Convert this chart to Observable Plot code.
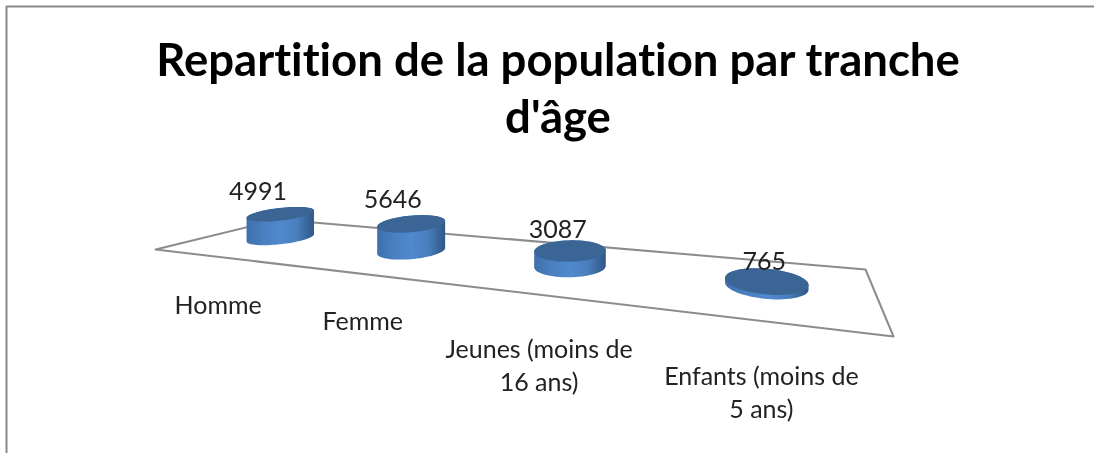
<!DOCTYPE html>
<html><head><meta charset="utf-8">
<script src="https://cdn.jsdelivr.net/npm/d3@7"></script>
<script src="https://cdn.jsdelivr.net/npm/@observablehq/plot@0.6"></script>
<style>html,body{margin:0;padding:0;background:#fff}svg{display:block;filter:blur(0.45px)}svg text{font-variant-ligatures:none;font-feature-settings:"liga" 0}</style>
</head><body><div id="chart"></div>
<script>
const chartTitle = "Repartition de la population par tranche\nd'âge";
const categories = ["Homme", "Femme", "Jeunes (moins de\n16 ans)", "Enfants (moins de\n5 ans)"];
const values = [4991, 5646, 3087, 765];

const W = 1094, H = 453;
// perspective calibration: floor corners of the 3-D plot on screen (back-left, back-right, front-right, front-left)
const [p00, p10, p11, p01] = [[278,219],[865,269],[893,336],[155,249]];
function homography(){
  const dx1=p10[0]-p11[0], dx2=p01[0]-p11[0], sx=p00[0]-p10[0]+p11[0]-p01[0];
  const dy1=p10[1]-p11[1], dy2=p01[1]-p11[1], sy=p00[1]-p10[1]+p11[1]-p01[1];
  const d=dx1*dy2-dx2*dy1;
  const g=(sx*dy2-dx2*sy)/d, h=(dx1*sy-sx*dy1)/d;
  const a=p10[0]-p00[0]+g*p10[0], b=p01[0]-p00[0]+h*p01[0], c=p00[0];
  const e=p10[1]-p00[1]+g*p10[1], f=p01[1]-p00[1]+h*p01[1], k=p00[1];
  return (u,v)=>{const w=g*u+h*v+1;return [(a*u+b*v+c)/w,(e*u+f*v+k)/w];};
}
const project = homography();
const depthMid = 0.475, radiusU = 0.048, radiusV = 0.22;
const heightPerUnit = 0.0052;
const band = i => 0.5 + ((i+0.5)/categories.length-0.5)*1.012;
const labelNudgeX = [0, 3, 3, 0], labelNudgeY = [11, 2, 12, -8]; // axis labels are placed by the wrap of their text

const ringOf = i => d3.range(72).map(t=>{
  const a=t/72*2*Math.PI;
  return project(band(i)+radiusU*Math.cos(a), depthMid+radiusV*Math.sin(a));
});
const heightOf = i => {
  const ring = ringOf(i);
  return values[i]*heightPerUnit*(d3.max(ring,d=>d[0])-d3.min(ring,d=>d[0]))/74;
};

const sides = [], tops = [];
categories.forEach((c,i)=>{
  const ring = ringOf(i), h = heightOf(i);
  const top = ring.map(([x,y])=>[x,y-h]);
  d3.polygonHull([...ring,...top]).forEach(([x,y])=>sides.push({x,y,i}));
  top.forEach(([x,y])=>tops.push({x,y,i}));
});

const floor = [p00,p10,p11,p01].map(([x,y])=>({x,y}));
const valueLabels = categories.map((c,i)=>({
  x:project(band(i),0.67)[0],
  y:project(band(i),depthMid)[1]-heightOf(i)*1.2-17.5,
  label:String(values[i])
}));
const catLabels = categories.map((c,i)=>({
  x:project(band(i),0.97)[0]+labelNudgeX[i],
  y:project(band(i),1.72)[1]+labelNudgeY[i],
  label:c
}));

const defs = () => {
  const d = d3.create("svg:defs");
  const g = d.append("linearGradient").attr("id","side").attr("x1",0).attr("x2",1).attr("y1",0).attr("y2",0);
  [[0,"#3f70ac"],[0.25,"#4a7fc0"],[0.5,"#5189d0"],[0.75,"#4a7ebd"],[1,"#2e5785"]].forEach(([o,col])=>
    g.append("stop").attr("offset",o).attr("stop-color",col));
  return d.node();
};

const plot = Plot.plot({
  width:W, height:H, margin:0,
  x:{domain:[0,W],range:[0,W],axis:null},
  y:{domain:[0,H],range:[0,H],axis:null},
  marks:[
    Plot.ruleY([6],{x1:6,x2:W,stroke:"#8a8a8a",strokeWidth:2}),
    Plot.ruleX([6],{y1:6,y2:H,stroke:"#8a8a8a",strokeWidth:2}),
    defs,
    Plot.line(floor,{x:"x",y:"y",curve:"linear-closed",stroke:"#8c8c8c",strokeWidth:2,fill:"none"}),
    Plot.line(sides,{x:"x",y:"y",z:"i",curve:"linear-closed",fill:"url(#side)",stroke:"none"}),
    Plot.line(tops,{x:"x",y:"y",z:"i",curve:"linear-closed",fill:"#3a6595",stroke:"none"}),
    Plot.text(valueLabels,{x:"x",y:"y",text:"label",fontSize:25,fill:"#222",fontFamily:"Lato"}),
    Plot.text(catLabels,{x:"x",y:"y",text:"label",fontSize:25,lineHeight:1.3,fill:"#222",fontFamily:"Lato"}),
    Plot.text([chartTitle],{x:()=>557.5,y:()=>86,text:d=>d,fontSize:45.5,fontWeight:700,lineHeight:1.25,fill:"#000",fontFamily:"Lato"})
  ]
});
document.getElementById("chart").append(plot);
</script></body></html>
